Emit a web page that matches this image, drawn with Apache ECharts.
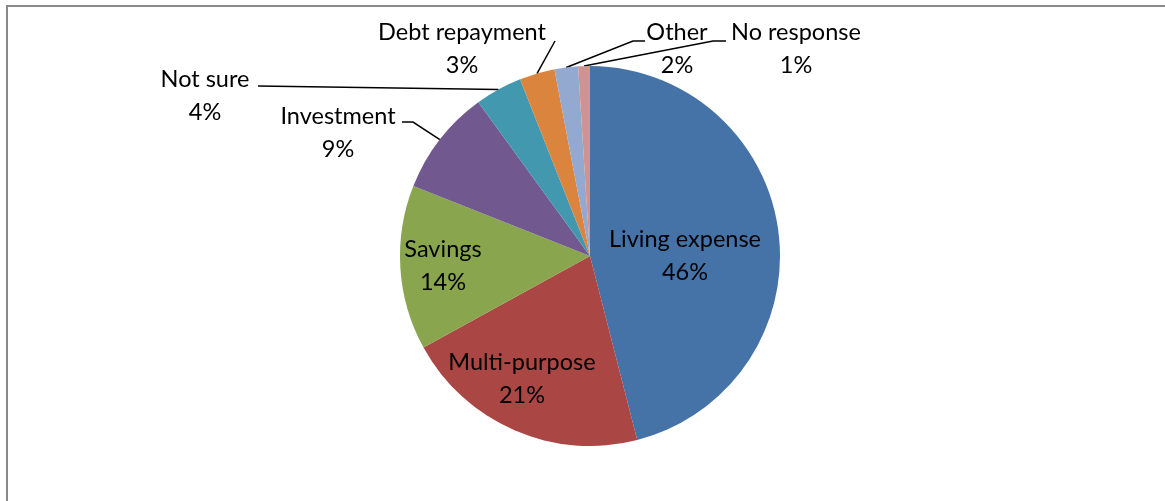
<!DOCTYPE html>
<html>
<head>
<meta charset="utf-8">
<title>Use of funds</title>
<script src="https://cdn.jsdelivr.net/npm/echarts@6/dist/echarts.min.js"></script>
<style>
  html, body { margin: 0; padding: 0; background: #ffffff; }
  #chart { width: 1165px; height: 501px; }
</style>
</head>
<body>
<div id="chart"></div>
<script>
// Categories and shares (percent of respondents), clockwise from 12 o'clock
const categories = ['Living expense', 'Multi-purpose', 'Savings', 'Investment', 'Not sure', 'Debt repayment', 'Other', 'No response'];
const shares = [46, 21, 14, 9, 4, 3, 2, 1];
const colors = ['#4572A7', '#AA4643', '#89A54E', '#71588F', '#4198AF', '#DB843D', '#93A9CF', '#D19392'];

// Which labels sit outside the pie with a leader line
const outsideLabels = ['Investment', 'Not sure', 'Debt repayment', 'Other', 'No response'];

// Label block centres (px) and leader elbow / end points
const labelSpots = {
  'Living expense': { x: 685, y: 256 },
  'Multi-purpose':  { x: 522, y: 379 },
  'Savings':        { x: 443, y: 266 },
  'Investment':     { x: 338, y: 133, line: [[413, 122], [402, 122]] },
  'Not sure':       { x: 205, y: 96,  line: [[258, 86]] },
  'Debt repayment': { x: 462, y: 49,  line: [[555, 41]] },
  'Other':          { x: 677, y: 49,  line: [[633, 41], [645, 41]] },
  'No response':    { x: 796, y: 49,  line: [[713, 41], [726, 41]] }
};

const chart = echarts.init(document.getElementById('chart'), null, { renderer: 'canvas' });

const pieData = categories.map((name, i) => {
  const outside = outsideLabels.indexOf(name) >= 0;
  return {
    name: name,
    value: shares[i],
    itemStyle: { color: colors[i] },
    label: { position: outside ? 'outside' : 'inside' },
    labelLine: { show: outside }
  };
});

chart.setOption({
  animation: false,
  backgroundColor: '#ffffff',
  graphic: [{
    type: 'rect',
    silent: true,
    shape: { x: 7, y: 6, width: 1300, height: 700 },
    style: { fill: 'none', stroke: '#8a8a8a', lineWidth: 2 }
  }],
  series: [{
    type: 'pie',
    center: [590, 256],
    radius: 190,
    startAngle: 90,
    clockwise: true,
    avoidLabelOverlap: false,
    itemStyle: { borderWidth: 0 },
    emphasis: { disabled: true },
    label: {
      formatter: '{b}\n{d}%',
      color: '#000000',
      fontFamily: 'Lato',
      fontSize: 23.5,
      lineHeight: 33,
      align: 'center'
    },
    labelLine: {
      lineStyle: { color: '#000000', width: 1.5 }
    },
    labelLayout: function (params) {
      const name = categories[params.dataIndex];
      const spot = labelSpots[name];
      const out = {
        x: spot.x,
        y: spot.y,
        align: 'center',
        verticalAlign: 'middle'
      };
      if (spot.line && params.labelLinePoints) {
        out.labelLinePoints = [params.labelLinePoints[0]].concat(spot.line);
      }
      return out;
    },
    data: pieData
  }]
});
</script>
</body>
</html>
